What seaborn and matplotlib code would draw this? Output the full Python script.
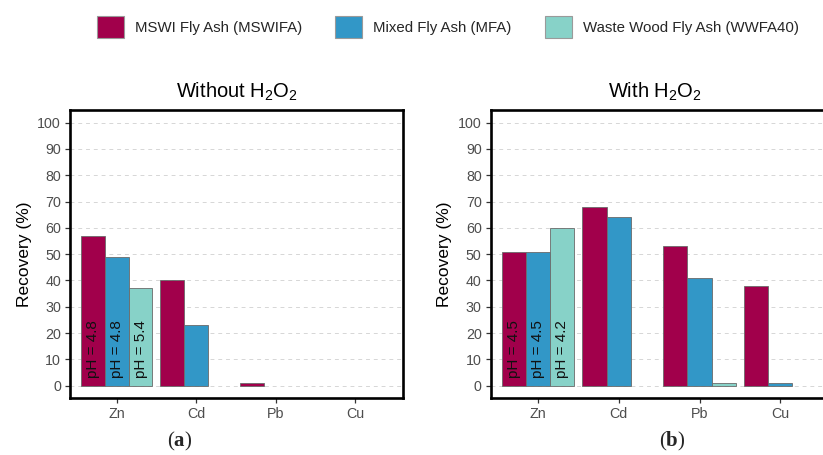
import matplotlib
matplotlib.use("Agg")
import matplotlib.pyplot as plt
import seaborn as sns
import pandas as pd
from matplotlib.patches import Patch

# ---- data ----
metals = ["Zn", "Cd", "Pb", "Cu"]
ash_types = ["MSWI Fly Ash (MSWIFA)", "Mixed Fly Ash (MFA)", "Waste Wood Fly Ash (WWFA40)"]
without_mswi = [57, 40, 1, 0]
without_mfa = [49, 23, 0, 0]
without_wwfa = [37, 0, 0, 0]
with_mswi = [51, 68, 53, 38]
with_mfa = [51, 64, 41, 1]
with_wwfa = [60, 0, 1, 0]
ph_without = ["4.8", "4.8", "5.4"]
ph_with = ["4.5", "4.5", "4.2"]
titles = ["Without H$_\\mathrm{2}$O$_\\mathrm{2}$", "With H$_\\mathrm{2}$O$_\\mathrm{2}$"]
yticks = list(range(0, 101, 10))

colors = ["#A1004B", "#3297C7", "#87D2C8"]

sns.set_theme(style="white")
plt.rcParams["font.family"] = ["Liberation Sans", "DejaVu Sans"]
plt.rcParams["mathtext.fontset"] = "custom"
plt.rcParams["mathtext.rm"] = "Liberation Sans"
plt.rcParams["mathtext.it"] = "Liberation Sans:italic"
plt.rcParams["mathtext.bf"] = "Liberation Serif:bold"


def make_df(a, b, c):
    rows = []
    for name, vals in zip(ash_types, [a, b, c]):
        for m, v in zip(metals, vals):
            rows.append({"Metal": m, "Ash": name, "Recovery": v})
    return pd.DataFrame(rows)


dfs = [make_df(without_mswi, without_mfa, without_wwfa),
       make_df(with_mswi, with_mfa, with_wwfa)]
phs = [ph_without, ph_with]

fig = plt.figure(figsize=(8.23, 4.55), dpi=100)
positions = [[70 / 823, 1 - 398 / 455, 333 / 823, 288 / 455],
             [490.7 / 823, 1 - 398 / 455, 338 / 823, 288 / 455]]
title_x = [0.5, 0.486]
labels_ab = ["a", "b"]
label_x = [180 / 823, 672 / 823]

for i in range(2):
    ax = fig.add_axes(positions[i])
    sns.barplot(data=dfs[i], x="Metal", y="Recovery", hue="Ash", order=metals,
                hue_order=ash_types, palette=colors, saturation=1, width=0.9, gap=0,
                edgecolor="#6a6a6a", linewidth=0.6, legend=False, ax=ax,
                zorder=2)
    for p in ax.patches:
        if p.get_height() == 0:
            p.set_visible(False)
    ax.set_xlim(-0.587, 3.6)
    ax.set_ylim(-4.7, 104.8)
    ax.set_yticks(yticks)
    ax.set_yticklabels([str(t) for t in yticks])
    ax.yaxis.grid(True, linestyle=(0, (4, 4)), color="#d6d6d6", linewidth=0.7, zorder=0)
    ax.xaxis.grid(False)
    ax.set_axisbelow(True)
    for s in ax.spines.values():
        s.set_visible(True)
        s.set_color("black")
        s.set_linewidth(1.9)
    ax.tick_params(axis="both", which="major", length=3.5, width=0.9,
                   color="#333333", labelcolor="#4d4d4d", labelsize=10.3,
                   left=True, bottom=True, pad=3)
    ax.set_xlabel("")
    ax.set_ylabel("Recovery (%)", fontsize=12.5, color="black", labelpad=4)
    ax.set_title(titles[i], fontsize=14.5, x=title_x[i], pad=9, color="black")
    # pH annotations on Zn bars
    for cont, ph in zip(ax.containers, phs[i]):
        bar = cont.patches[0]
        ax.text(bar.get_x() + bar.get_width() / 2, 3, f"pH = {ph}", rotation=90,
                ha="center", va="bottom", fontsize=11, color="#111111", zorder=3)
    fig.text(label_x[i], 1 - 441 / 455, f"(${{\\mathbf{{{labels_ab[i]}}}}}$)",
             ha="center", va="center", fontsize=15, family="Liberation Serif")

handles = [Patch(facecolor=c, edgecolor="#9a9a9a", linewidth=0.8) for c in colors]
fig.legend(handles, ash_types, loc="center", bbox_to_anchor=(448 / 823, 1 - 27 / 455),
           ncol=3, frameon=False, fontsize=10.8, handlelength=1.8, handleheight=1.87,
           handletextpad=0.73, columnspacing=2.2)

fig.savefig("out.png", dpi=100)
